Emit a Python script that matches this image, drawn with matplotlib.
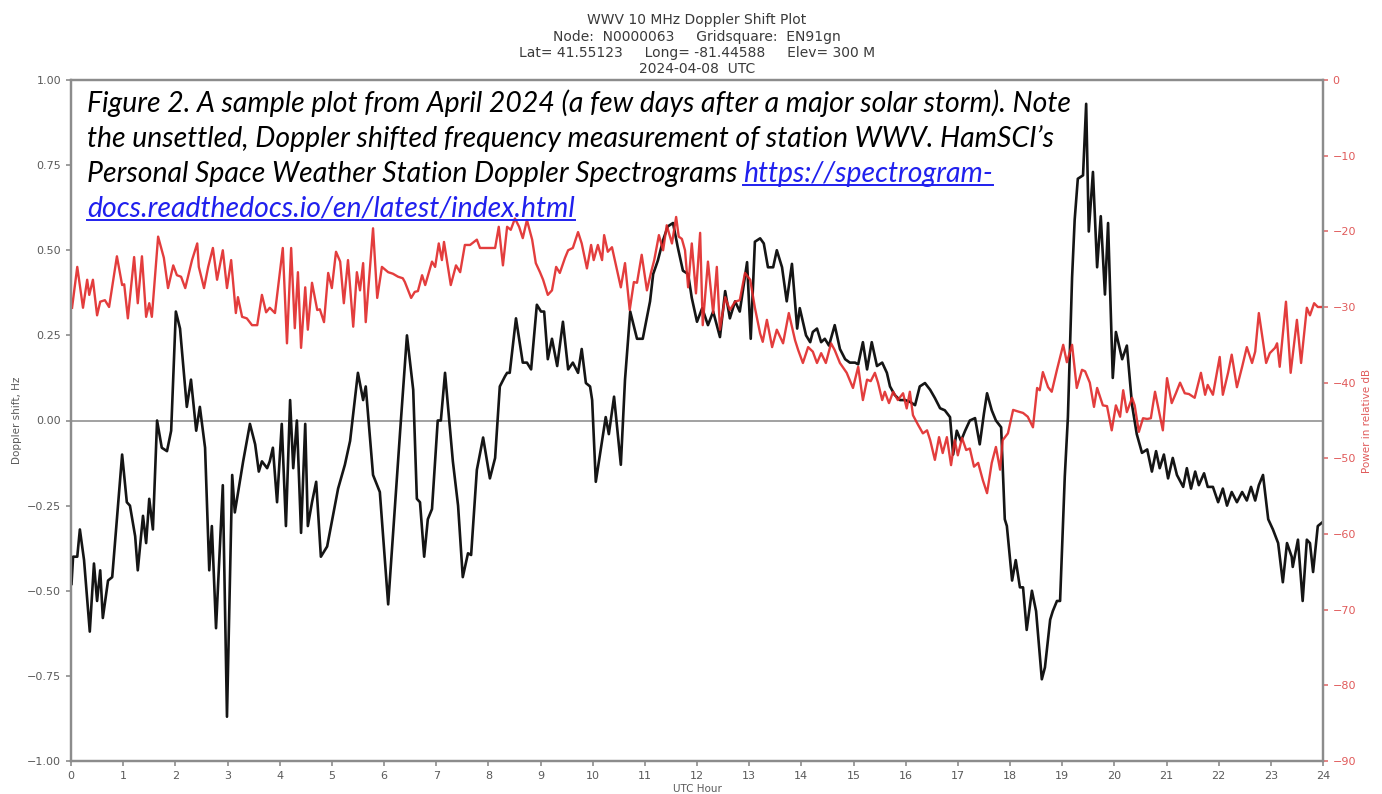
import matplotlib
matplotlib.use("Agg")
import matplotlib.pyplot as plt
from matplotlib.lines import Line2D

# Doppler shift of the WWV 10 MHz carrier, Hz
doppler_hours = [
    0.01, 0.04, 0.12, 0.17, 0.25, 0.36, 0.44, 0.50, 0.56, 0.61, 0.71, 0.79, 0.98, 1.07, 1.13,
    1.23, 1.28, 1.38, 1.44, 1.50, 1.57, 1.65, 1.74, 1.84, 1.92, 2.01, 2.09, 2.22, 2.30, 2.40,
    2.47, 2.57, 2.65, 2.70, 2.78, 2.91, 2.99, 3.09, 3.14, 3.30, 3.43, 3.53, 3.60, 3.66, 3.76,
    3.81, 3.87, 3.95, 4.04, 4.12, 4.20, 4.26, 4.33, 4.41, 4.49, 4.54, 4.62, 4.70, 4.79, 4.91,
    5.12, 5.25, 5.35, 5.50, 5.60, 5.65, 5.79, 5.92, 6.08, 6.31, 6.44, 6.56, 6.63, 6.69, 6.77,
    6.84, 6.92, 7.03, 7.09, 7.17, 7.32, 7.42, 7.51, 7.61, 7.67, 7.78, 7.90, 8.03, 8.13, 8.22,
    8.32, 8.36, 8.41, 8.53, 8.66, 8.74, 8.82, 8.93, 9.01, 9.07, 9.14, 9.22, 9.32, 9.43, 9.53,
    9.62, 9.72, 9.79, 9.87, 9.95, 9.99, 10.06, 10.14, 10.25, 10.31, 10.41, 10.54, 10.62, 10.72,
    10.85, 10.96, 11.10, 11.16, 11.25, 11.35, 11.44, 11.54, 11.63, 11.73, 11.83, 11.90, 12.00,
    12.10, 12.21, 12.31, 12.38, 12.44, 12.54, 12.63, 12.73, 12.82, 12.96, 13.03, 13.11, 13.21,
    13.28, 13.36, 13.46, 13.53, 13.63, 13.72, 13.82, 13.92, 13.97, 14.09, 14.17, 14.22, 14.30,
    14.38, 14.45, 14.53, 14.64, 14.74, 14.84, 14.93, 15.03, 15.09, 15.18, 15.26, 15.35, 15.45,
    15.55, 15.64, 15.70, 15.79, 15.89, 15.99, 16.08, 16.18, 16.27, 16.37, 16.47, 16.56, 16.66,
    16.75, 16.85, 16.91, 16.98, 17.06, 17.14, 17.23, 17.33, 17.42, 17.50, 17.56, 17.65, 17.73,
    17.83, 17.90, 17.94, 18.04, 18.11, 18.19, 18.25, 18.32, 18.42, 18.50, 18.61, 18.67, 18.77,
    18.82, 18.90, 18.96, 19.05, 19.11, 19.19, 19.24, 19.30, 19.40, 19.46, 19.51, 19.59, 19.67,
    19.74, 19.82, 19.88, 19.97, 20.03, 20.15, 20.24, 20.34, 20.43, 20.53, 20.63, 20.72, 20.80,
    20.87, 20.95, 21.03, 21.12, 21.20, 21.32, 21.39, 21.47, 21.55, 21.62, 21.72, 21.79, 21.89,
    21.99, 22.08, 22.16, 22.25, 22.35, 22.45, 22.54, 22.62, 22.70, 22.77, 22.85, 22.95, 23.04,
    23.14, 23.23, 23.31, 23.40, 23.42, 23.52, 23.61, 23.69, 23.75, 23.81, 23.90, 23.98,
]
doppler_hz = [
    -0.48, -0.40, -0.40, -0.32, -0.41, -0.62, -0.42, -0.53, -0.44, -0.58, -0.47, -0.46, -0.10, -0.24, -0.25,
    -0.34, -0.44, -0.28, -0.36, -0.23, -0.32, 0.00, -0.08, -0.09, -0.03, 0.32, 0.27, 0.04, 0.12, -0.03,
    0.04, -0.08, -0.44, -0.31, -0.61, -0.19, -0.87, -0.16, -0.27, -0.12, -0.01, -0.07, -0.15, -0.12, -0.14,
    -0.12, -0.08, -0.24, -0.01, -0.31, 0.06, -0.14, 0.00, -0.33, -0.01, -0.31, -0.24, -0.18, -0.40, -0.37,
    -0.20, -0.13, -0.06, 0.14, 0.06, 0.10, -0.16, -0.21, -0.54, -0.03, 0.25, 0.09, -0.23, -0.24, -0.40,
    -0.29, -0.26, 0.00, 0.00, 0.14, -0.12, -0.25, -0.46, -0.39, -0.395, -0.145, -0.05, -0.17, -0.11, 0.10,
    0.13, 0.14, 0.14, 0.30, 0.17, 0.17, 0.15, 0.34, 0.32, 0.32, 0.18, 0.24, 0.16, 0.29, 0.15,
    0.17, 0.14, 0.21, 0.11, 0.10, 0.06, -0.18, -0.10, 0.01, -0.04, 0.07, -0.13, 0.12, 0.32,
    0.24, 0.24, 0.35, 0.43, 0.47, 0.53, 0.57, 0.58, 0.51, 0.44, 0.43, 0.36, 0.29,
    0.33, 0.28, 0.32, 0.28, 0.245, 0.38, 0.30, 0.35, 0.32, 0.465, 0.24, 0.525, 0.535,
    0.52, 0.45, 0.45, 0.50, 0.45, 0.35, 0.46, 0.27, 0.33, 0.25, 0.23, 0.26, 0.27,
    0.23, 0.24, 0.22, 0.28, 0.21, 0.18, 0.17, 0.17, 0.165, 0.23, 0.15, 0.23, 0.16,
    0.17, 0.14, 0.10, 0.075, 0.06, 0.06, 0.055, 0.045, 0.10, 0.11, 0.09, 0.066, 0.036,
    0.03, 0.01, -0.10, -0.03, -0.06, -0.03, 0.00, 0.007, -0.07, 0.02, 0.08, 0.03, 0.00,
    -0.02, -0.29, -0.31, -0.47, -0.41, -0.49, -0.49, -0.615, -0.50, -0.56, -0.76, -0.725, -0.585,
    -0.56, -0.53, -0.53, -0.165, 0.01, 0.42, 0.59, 0.71, 0.72, 0.93, 0.555, 0.73, 0.45,
    0.60, 0.37, 0.58, 0.125, 0.26, 0.18, 0.22, 0.045, -0.04, -0.095, -0.085, -0.15, -0.09,
    -0.14, -0.10, -0.17, -0.11, -0.16, -0.195, -0.14, -0.20, -0.15, -0.19, -0.155, -0.195, -0.195,
    -0.24, -0.20, -0.25, -0.21, -0.24, -0.21, -0.235, -0.195, -0.235, -0.19, -0.16, -0.29, -0.32,
    -0.36, -0.475, -0.36, -0.40, -0.43, -0.35, -0.53, -0.35, -0.36, -0.445, -0.31, -0.30,
]

# received carrier power, relative dB
power_hours = [
    0.02, 0.12, 0.23, 0.31, 0.35, 0.42, 0.50, 0.56, 0.65, 0.73, 0.88, 0.98, 1.02, 1.09, 1.21,
    1.28, 1.36, 1.44, 1.50, 1.55, 1.67, 1.78, 1.86, 1.96, 2.03, 2.11, 2.19, 2.32, 2.42, 2.45,
    2.55, 2.63, 2.72, 2.80, 2.91, 2.99, 3.07, 3.16, 3.20, 3.28, 3.37, 3.47, 3.57, 3.66, 3.74,
    3.81, 3.91, 4.06, 4.14, 4.22, 4.29, 4.35, 4.41, 4.49, 4.54, 4.62, 4.72, 4.77, 4.85, 4.93,
    5.00, 5.08, 5.16, 5.23, 5.31, 5.41, 5.48, 5.54, 5.60, 5.65, 5.79, 5.87, 5.96, 6.08, 6.17,
    6.27, 6.36, 6.40, 6.52, 6.59, 6.65, 6.73, 6.79, 6.92, 6.98, 7.05, 7.11, 7.15, 7.28, 7.38,
    7.46, 7.55, 7.65, 7.78, 7.84, 7.94, 8.07, 8.13, 8.20, 8.28, 8.36, 8.43, 8.51, 8.59, 8.66,
    8.74, 8.84, 8.91, 8.99, 9.05, 9.14, 9.22, 9.30, 9.37, 9.47, 9.53, 9.62, 9.72, 9.79, 9.89,
    9.97, 10.02, 10.10, 10.18, 10.22, 10.29, 10.37, 10.48, 10.54, 10.62, 10.71, 10.79, 10.85, 10.94,
    11.04, 11.12, 11.18, 11.27, 11.35, 11.42, 11.52, 11.60, 11.65, 11.71, 11.77, 11.83, 11.90,
    11.98, 12.06, 12.11, 12.21, 12.31, 12.38, 12.44, 12.54, 12.63, 12.73, 12.82, 12.92, 13.02,
    13.11, 13.21, 13.26, 13.34, 13.44, 13.53, 13.65, 13.76, 13.88, 13.94, 14.03, 14.13, 14.22,
    14.30, 14.38, 14.47, 14.57, 14.64, 14.74, 14.87, 14.99, 15.09, 15.18, 15.26, 15.33, 15.41,
    15.47, 15.55, 15.60, 15.68, 15.76, 15.85, 15.95, 16.02, 16.08, 16.14, 16.24, 16.33, 16.41,
    16.47, 16.56, 16.64, 16.71, 16.79, 16.87, 16.94, 17.00, 17.08, 17.16, 17.23, 17.31, 17.39,
    17.48, 17.56, 17.65, 17.73, 17.81, 17.86, 17.96, 18.06, 18.15, 18.25, 18.34, 18.44, 18.52,
    18.57, 18.63, 18.73, 18.80, 18.90, 19.02, 19.09, 19.19, 19.28, 19.38, 19.44, 19.53, 19.61,
    19.67, 19.78, 19.86, 19.95, 20.03, 20.11, 20.17, 20.24, 20.34, 20.39, 20.47, 20.55, 20.63,
    20.70, 20.78, 20.85, 20.93, 21.01, 21.10, 21.18, 21.26, 21.35, 21.43, 21.54, 21.66, 21.74,
    21.79, 21.89, 22.02, 22.08, 22.18, 22.25, 22.35, 22.45, 22.54, 22.64, 22.70, 22.77, 22.85,
    22.91, 22.98, 23.08, 23.12, 23.17, 23.29, 23.38, 23.50, 23.58, 23.69, 23.75, 23.83, 23.90, 24.00,
]
power_db = [
    -30.1, -24.7, -30.1, -26.4, -28.4, -26.4, -31.1, -29.3, -29.1, -30.0, -23.3, -27.1, -27.0, -31.5, -23.4,
    -29.5, -23.3, -31.3, -29.5, -31.3, -20.7, -23.5, -27.5, -24.5, -25.8, -26.0, -27.5, -23.8, -21.6, -24.7,
    -27.5, -24.7, -22.2, -26.4, -22.5, -27.5, -23.8, -30.8, -28.7, -31.3, -31.5, -32.4, -32.4, -28.4, -30.7,
    -30.1, -30.8, -22.2, -34.8, -22.2, -32.8, -25.4, -35.4, -27.4, -33.0, -26.8, -30.4, -30.3, -32.0, -25.5,
    -27.5, -22.7, -24.0, -29.5, -23.8, -32.6, -25.4, -27.8, -24.2, -32.0, -19.6, -28.8, -24.7, -25.4, -25.6,
    -26.0, -26.2, -26.7, -28.8, -28.0, -27.9, -25.8, -27.1, -24.0, -24.7, -21.6, -23.8, -21.4, -27.1, -24.5,
    -25.4, -21.8, -21.8, -21.1, -22.2, -22.2, -22.2, -22.2, -19.4, -24.5, -19.4, -19.8, -18.3, -19.4, -20.9,
    -18.5, -21.1, -24.2, -25.4, -26.4, -28.4, -27.8, -24.7, -25.5, -23.5, -22.5, -22.2, -20.1, -21.6, -24.9,
    -21.8, -23.8, -21.8, -23.8, -20.5, -22.7, -22.1, -25.5, -27.4, -24.2, -30.4, -26.7, -26.8, -23.1,
    -27.8, -25.4, -23.8, -20.5, -22.5, -19.2, -21.6, -18.1, -20.7, -21.0, -22.5, -27.4, -21.6,
    -28.2, -20.2, -32.4, -24.0, -30.8, -24.7, -33.0, -28.7, -30.4, -29.3, -29.1, -25.5, -26.4,
    -30.1, -33.5, -34.6, -31.7, -35.3, -33.0, -34.8, -30.8, -34.4, -35.7, -37.4, -35.3, -35.9,
    -37.4, -36.1, -37.4, -34.8, -35.7, -37.4, -38.7, -40.7, -37.9, -42.3, -39.6, -39.8, -38.7,
    -40.0, -42.3, -41.2, -42.7, -41.2, -42.3, -41.4, -43.4, -41.2, -44.3, -45.6, -46.7, -46.3,
    -47.6, -50.2, -47.2, -49.3, -47.2, -50.9, -47.6, -49.6, -47.3, -48.9, -48.7, -51.1, -50.6,
    -52.9, -54.6, -50.6, -48.5, -51.5, -47.6, -46.7, -43.6, -43.8, -44.0, -44.5, -45.9, -40.7,
    -41.0, -38.6, -40.6, -41.2, -38.3, -35.0, -37.3, -35.0, -40.7, -38.3, -38.5, -40.0, -43.2,
    -40.7, -43.0, -43.1, -46.3, -43.0, -44.5, -41.0, -43.9, -42.0, -43.0, -46.5, -44.7, -44.8,
    -44.7, -41.2, -43.6, -46.3, -39.4, -42.7, -41.4, -40.0, -41.4, -41.5, -42.0, -38.7, -41.6,
    -40.3, -41.6, -36.6, -41.6, -38.7, -36.3, -40.6, -37.9, -35.3, -37.4, -35.9, -30.8, -34.6,
    -37.4, -36.1, -35.4, -34.8, -37.9, -29.3, -38.7, -31.7, -37.4, -30.1, -31.1, -29.5, -30.0, -30.0,
]

hour_ticks = list(range(0, 25))
hz_ticks = [-1.0, -0.75, -0.5, -0.25, 0.0, 0.25, 0.5, 0.75, 1.0]
db_ticks = list(range(-90, 1, 10))

title_text = ("WWV 10 MHz Doppler Shift Plot\n"
              "Node:  N0000063     Gridsquare:  EN91gn\n"
              "Lat= 41.55123     Long= -81.44588     Elev= 300 M\n"
              "2024-04-08  UTC")

caption_lines = [
    "Figure 2. A sample plot from April 2024 (a few days after a major solar storm). Note",
    "the unsettled, Doppler shifted frequency measurement of station WWV. HamSCI\u2019s",
    "Personal Space Weather Station Doppler Spectrograms",
]
link_part1 = "https://spectrogram-"
link_part2 = "docs.readthedocs.io/en/latest/index.html"

W, H = 1382, 794
fig = plt.figure(figsize=(W / 100, H / 100), dpi=100)
ax = fig.add_axes([71 / W, 1 - 761 / H, (1323 - 71) / W, (761 - 80) / H])

axis_grey = "#8c8c8c"
label_grey = "#5a5a5a"
red = "#e02828"

ax.axhline(0, color="#9a9a9a", lw=1.3, zorder=1)
ax.plot(doppler_hours, doppler_hz, color="#151515", lw=1.9, zorder=3,
        solid_joinstyle="round")
ax.set_xlim(0, 24)
ax.set_ylim(-1, 1)
ax.set_xticks(hour_ticks)
ax.set_yticks(hz_ticks)
ax.set_yticklabels([f"{v:.2f}".replace("-", "\u2212") for v in hz_ticks])
ax.tick_params(colors=axis_grey, labelcolor=label_grey, labelsize=8, width=1.2)
ax.set_xlabel("UTC Hour", fontsize=7.5, color=label_grey, labelpad=2)
ax.set_ylabel("Doppler shift, Hz", fontsize=7.5, color=label_grey, labelpad=4)
for sp in ax.spines.values():
    sp.set_color(axis_grey)
    sp.set_linewidth(1.6)

ax2 = ax.twinx()
ax2.plot(power_hours, power_db, color=red, lw=1.7, alpha=0.9, zorder=2,
         solid_joinstyle="round")
ax2.set_ylim(-90, 0)
ax2.set_yticks(db_ticks)
ax2.set_yticklabels([str(v).replace("-", "\u2212") for v in db_ticks])
ax2.tick_params(axis="y", colors="#e07070", labelcolor="#e05a5a", labelsize=8, width=1.2)
ax2.set_ylabel("Power in relative dB", fontsize=7.5, color="#e05a5a", labelpad=4)
for sp in ax2.spines.values():
    sp.set_color(axis_grey)
    sp.set_linewidth(1.6)

ax.set_title(title_text, fontsize=10, color="#3a3a3a", linespacing=1.2, pad=5)

# caption written over the upper-left part of the plot
cap_font = dict(family=["Lato", "DejaVu Sans"], style="italic", fontsize=20.4)
x0 = 87 / W
baselines = [112, 147, 182, 217]
texts = []
for line, yb in zip(caption_lines, baselines):
    texts.append(fig.text(x0, 1 - yb / H, line, color="black", va="baseline", **cap_font))

link_blue = "#2020ee"
fig.canvas.draw()
renderer = fig.canvas.get_renderer()
bb = texts[2].get_window_extent(renderer)
link1 = fig.text((bb.x1 + 6) / W, 1 - baselines[2] / H, link_part1, color=link_blue,
                 va="baseline", **cap_font)
link2 = fig.text(x0, 1 - baselines[3] / H, link_part2, color=link_blue,
                 va="baseline", **cap_font)
fig.canvas.draw()
for t, yb in ((link1, baselines[2]), (link2, baselines[3])):
    b = t.get_window_extent(renderer)
    yline = 1 - (yb + 3) / H
    fig.add_artist(Line2D([b.x0 / W, b.x1 / W], [yline, yline], transform=fig.transFigure,
                          color=link_blue, lw=1.4))

fig.savefig("out.png", dpi=100)
